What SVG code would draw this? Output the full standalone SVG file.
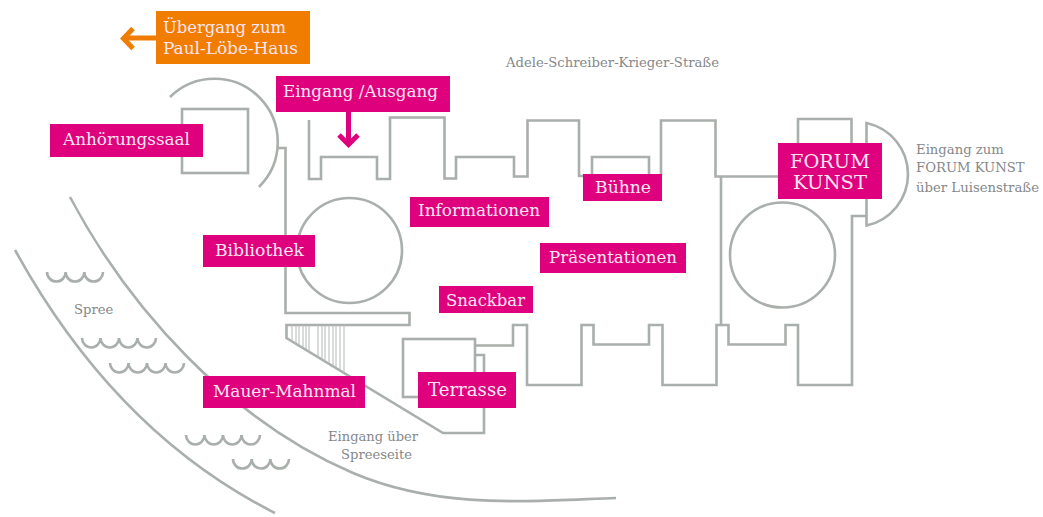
<svg xmlns="http://www.w3.org/2000/svg" width="1043" height="517" viewBox="0 0 1043 517">
<style>
.w{fill:none;stroke:#a9afab;stroke-width:2.6}
.h{fill:none;stroke:#b4b9b6;stroke-width:1}
.b{fill:#df007d}
.t{font-family:"DejaVu Serif",serif;font-size:16.8px;fill:#fde6f2}
.g{font-family:"DejaVu Serif",serif;font-size:13.2px;fill:#85888a}
</style>
<rect width="1043" height="517" fill="#fff"/>
<g id="plan">
<path class="w" d="M309 120V179H321V157H377V179H390V117.500H444.500V178.500H456V157H514V176.500H527.500V120.500H579V176H592V157H649V176M661 176V120.500H715.500V176.500H780"/>
<path class="w" d="M721 176.500V325"/>
<path class="w" d="M277 148H285.500V313H409.500V325H286.500V338L443 433H484V355H475"/>
<rect class="w" x="403" y="339" width="72" height="58"/>
<path class="w" d="M475 345.500H513V325H527V385H581.500V325H593.500V344.500H649V325H662.500V385H716.500V325H728.500V344.500H785.500V325H798V385H852V216H866.500"/>
<path class="w" d="M798 145V119H851.500V145"/>
<path class="w" d="M866.500 123A52.400 52.400 0 0 1 866.500 225.500Z"/>
<circle class="w" cx="782.500" cy="255" r="52.500"/>
<circle class="w" cx="349.500" cy="250.500" r="52.500"/>
<path class="w" d="M170 97A63 63 0 0 1 259 187"/>
<rect class="w" x="182" y="109" width="66" height="64"/>
<path class="h" d="M292 325V341.300M296 325V344M299 325V345.600M303 325V348M306 325V350M309 325V351.700M318 325V357M322 325V359.500M325 325V361.400M329 325V363.800M333 325V366.200M336 325V368M340 325V370.500M344 325V373"/>
<path class="w" d="M15 250C70 350 150 450 275 513"/>
<path class="w" d="M70 197C130 310 230 420 353 473C440 510 530 501 616 498"/>
<path class="w" d="M47 272a9.330 9.500 0 0 0 18.670 0a9.330 9.500 0 0 0 18.670 0a9.330 9.500 0 0 0 18.670 0"/>
<path class="w" d="M82 338a9.250 9.500 0 0 0 18.500 0a9.250 9.500 0 0 0 18.500 0a9.250 9.500 0 0 0 18.500 0a9.250 9.500 0 0 0 18.500 0"/>
<path class="w" d="M110 363a9.250 9.500 0 0 0 18.500 0a9.250 9.500 0 0 0 18.500 0a9.250 9.500 0 0 0 18.500 0a9.250 9.500 0 0 0 18.500 0"/>
<path class="w" d="M186 435a9.250 9.500 0 0 0 18.500 0a9.250 9.500 0 0 0 18.500 0a9.250 9.500 0 0 0 18.500 0a9.250 9.500 0 0 0 18.500 0"/>
<path class="w" d="M233 459a9.330 9.500 0 0 0 18.670 0a9.330 9.500 0 0 0 18.670 0a9.330 9.500 0 0 0 18.670 0"/>
</g>
<g id="connectors">
<path d="M156 38H125" fill="none" stroke="#f07d00" stroke-width="5"/>
<path d="M133 28.500L123.500 38.500L133 48.500" fill="none" stroke="#f07d00" stroke-width="5"/>
<path d="M348.500 112V143" fill="none" stroke="#df007d" stroke-width="5"/>
<path d="M339 135L348.500 144.500L358 135" fill="none" stroke="#df007d" stroke-width="5"/>
</g>
<g id="uebergang"><rect x="156" y="11" width="154" height="53" fill="#f07d00"/><text class="t" x="163" y="33" textLength="123" lengthAdjust="spacingAndGlyphs">Übergang zum</text><text class="t" x="163" y="54" textLength="135" lengthAdjust="spacingAndGlyphs">Paul-Löbe-Haus</text></g>
<g id="eingang"><rect class="b" x="276" y="76" width="174" height="36"/><text class="t" x="283" y="97" textLength="155" lengthAdjust="spacingAndGlyphs">Eingang /Ausgang</text></g>
<g id="anhoerungssaal"><rect class="b" x="50" y="124" width="153" height="33"/><text class="t" x="63" y="145" textLength="127" lengthAdjust="spacingAndGlyphs">Anhörungssaal</text></g>
<g id="bibliothek"><rect class="b" x="203" y="235" width="112" height="32"/><text class="t" x="215" y="256" textLength="89" lengthAdjust="spacingAndGlyphs">Bibliothek</text></g>
<g id="informationen"><rect class="b" x="410" y="197" width="139" height="30"/><text class="t" x="418" y="216" textLength="122" lengthAdjust="spacingAndGlyphs">Informationen</text></g>
<g id="buehne"><rect class="b" x="583" y="174" width="79" height="27"/><text class="t" x="595" y="193" textLength="56" lengthAdjust="spacingAndGlyphs">Bühne</text></g>
<g id="praesentationen"><rect class="b" x="540" y="243" width="146" height="30"/><text class="t" x="549" y="263" textLength="128" lengthAdjust="spacingAndGlyphs">Präsentationen</text></g>
<g id="snackbar"><rect class="b" x="439" y="286" width="94" height="27"/><text class="t" x="446" y="306" textLength="79" lengthAdjust="spacingAndGlyphs">Snackbar</text></g>
<g id="terrasse"><rect class="b" x="418" y="372" width="98" height="36"/><text class="t" x="428" y="396" style="font-size:18.4px" textLength="79" lengthAdjust="spacingAndGlyphs">Terrasse</text></g>
<g id="mauer"><rect class="b" x="203" y="376" width="162" height="32"/><text class="t" x="213" y="397" textLength="143" lengthAdjust="spacingAndGlyphs">Mauer-Mahnmal</text></g>
<g id="forum"><rect class="b" x="778" y="143" width="104" height="56"/><text class="t" x="790" y="168" style="font-size:19.400px" textLength="80" lengthAdjust="spacingAndGlyphs">FORUM</text><text class="t" x="793" y="189" style="font-size:19.400px" textLength="74" lengthAdjust="spacingAndGlyphs">KUNST</text></g>
<g id="labels">
<text class="g" x="506" y="67" textLength="213" lengthAdjust="spacingAndGlyphs">Adele-Schreiber-Krieger-Straße</text>
<text class="g" x="916" y="154">Eingang zum</text>
<text class="g" x="916" y="172">FORUM KUNST</text>
<text class="g" x="916" y="192" textLength="123" lengthAdjust="spacingAndGlyphs">über Luisenstraße</text>
<text class="g" x="74" y="314">Spree</text>
<text class="g" x="328" y="441" textLength="90" lengthAdjust="spacingAndGlyphs">Eingang über</text>
<text class="g" x="341" y="459" textLength="71" lengthAdjust="spacingAndGlyphs">Spreeseite</text>
</g>
</svg>
